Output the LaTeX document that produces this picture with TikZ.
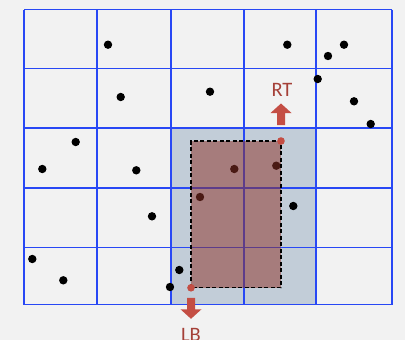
\documentclass[tikz,border=0pt]{standalone}
\usepackage{fontspec}
\usetikzlibrary{calc}
\setmainfont{Carlito}
\definecolor{bgc}{RGB}{242,242,242}
\definecolor{gridc}{RGB}{40,72,245}
\definecolor{shadec}{RGB}{194,205,216}
\definecolor{boxc}{RGB}{142,50,40}
\definecolor{arrowc}{RGB}{196,78,68}
\definecolor{labelc}{RGB}{165,64,56}
\tikzset{
  gridline/.style={draw=gridc, line width=1.4pt},
  dot/.style={fill=black},
  reddot/.style={fill=arrowc},
  blockarrow/.style={fill=arrowc},
  lbl/.style={text=labelc, font=\fontsize{20.5}{20.5}\selectfont, inner sep=0pt}
}
\begin{document}
\begin{tikzpicture}[x=1pt,y=-1pt]
\useasboundingbox (0,0) rectangle (405,340);
\fill[bgc] (0,0) rectangle (405,340);
% shaded cells
\fill[shadec] (171,128) rectangle (316,304.5);
% grid
\foreach \gx in {24,97,171,244,316,392}
  \draw[gridline] (\gx,9.5) -- (\gx,304.5);
\foreach \gy in {9.5,68.5,128,188,247.5,304.5}
  \draw[gridline] (24,\gy) -- (392,\gy);
% points
\foreach \px/\py in {108/44.7,287.3/44.7,328/56,344/44.7,317.7/79,120.7/97,210/91.7,354/101.3,370.7/124,75.7/142,42.3/169,136.3/170.3,234.3/169,276.3/165.7,200/197,293.3/206,152/216.3,32.3/259,63.3/280.3,179.3/270,170/287}
  \fill[dot] (\px,\py) circle[radius=4.2pt];
% corners
\coordinate (LB) at (191,287.8);
\coordinate (RT) at (281,141);
% query box
\fill[boxc, fill opacity=0.52] (LB) rectangle (RT);
\draw[black, line width=1.1pt, dash pattern=on 4pt off 2.5pt] (LB) rectangle (RT);
\fill[reddot] (LB) circle[radius=3.8pt];
\fill[reddot] (RT) circle[radius=3.8pt];
% arrows
\fill[blockarrow] ($(RT)+(-4,-16)$) -- ($(RT)+(-4,-28)$) -- ($(RT)+(-10.5,-28)$) -- ($(RT)+(0,-37.5)$) -- ($(RT)+(10.5,-28)$) -- ($(RT)+(4,-28)$) -- ($(RT)+(4,-16)$) -- cycle;
\fill[blockarrow] ($(LB)+(-4,10)$) -- ($(LB)+(-4,21.5)$) -- ($(LB)+(-10.5,21.5)$) -- ($(LB)+(0,31)$) -- ($(LB)+(10.5,21.5)$) -- ($(LB)+(4,21.5)$) -- ($(LB)+(4,10)$) -- cycle;
% labels
\node[lbl, anchor=base] (rtlabel) at (282,96.8) {RT};
\node[lbl, anchor=base] (lblabel) at (191,341.5) {LB};
\end{tikzpicture}
\end{document}
